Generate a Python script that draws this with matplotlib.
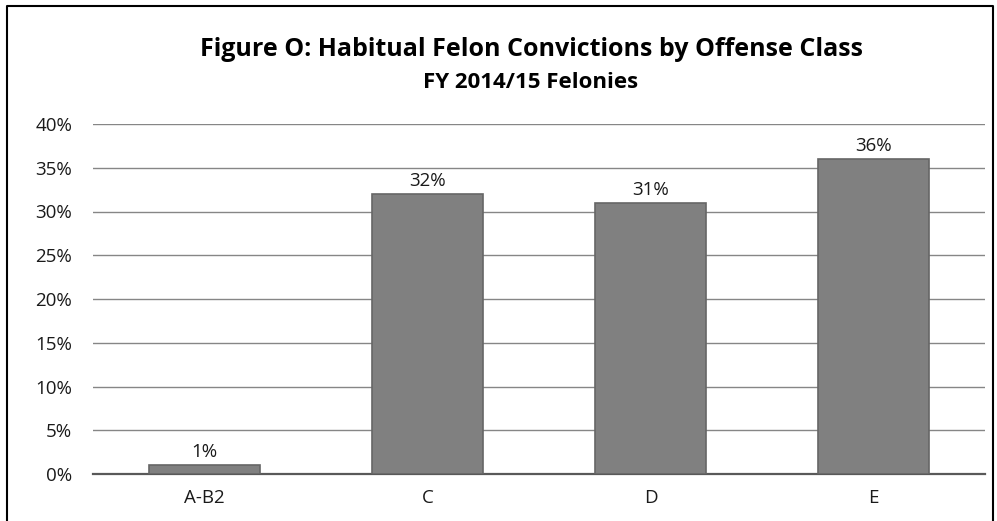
import matplotlib.pyplot as plt
from matplotlib.lines import Line2D
from matplotlib.ticker import FuncFormatter

# data
categories = ["A-B2", "C", "D", "E"]
values = [1, 32, 31, 36]
labels = ["1%", "32%", "31%", "36%"]

plt.rcParams['font.family'] = ['Open Sans', 'DejaVu Sans']

fig = plt.figure(figsize=(9.97, 5.21), dpi=100)
ax = fig.add_axes([93 / 997, 1 - 474 / 521, 892 / 997, 350 / 521])

bars = ax.bar(categories, values, width=0.5, color='#808080',
              edgecolor='#666666', linewidth=1.2, zorder=3)

for b, lab in zip(bars, labels):
    ax.text(b.get_x() + b.get_width() / 2, b.get_height() + 0.45, lab,
            ha='center', va='bottom', fontsize=13.5, color='#1a1a1a')

ax.set_ylim(0, 40)
ax.set_xlim(-0.5, 3.5)
ax.set_yticks(range(0, 41, 5))
ax.yaxis.set_major_formatter(FuncFormatter(lambda v, p: f"{int(v)}%"))
ax.grid(axis='y', color='#868686', linewidth=1.0, zorder=0)
ax.tick_params(axis='both', length=0, labelsize=13.5, colors='#1a1a1a')
ax.tick_params(axis='y', pad=15)
ax.tick_params(axis='x', pad=11)

for s in ['top', 'right', 'left']:
    ax.spines[s].set_visible(False)
ax.spines['bottom'].set_color('#595959')
ax.spines['bottom'].set_linewidth(1.6)

fig.text(531 / 997, 1 - 49 / 521, "Figure O: Habitual Felon Convictions by Offense Class",
         ha='center', va='center', fontsize=18, fontweight='bold')
fig.text(531 / 997, 1 - 83 / 521, "FY 2014/15 Felonies",
         ha='center', va='center', fontsize=16, fontweight='bold')

# outer frame (left, top, right)
fig.add_artist(Line2D([7 / 997, 7 / 997, 993 / 997, 993 / 997],
                      [0, 1 - 5.5 / 521, 1 - 5.5 / 521, 0],
                      transform=fig.transFigure, color='black', linewidth=1.5))

fig.savefig('out.png', dpi=100)
